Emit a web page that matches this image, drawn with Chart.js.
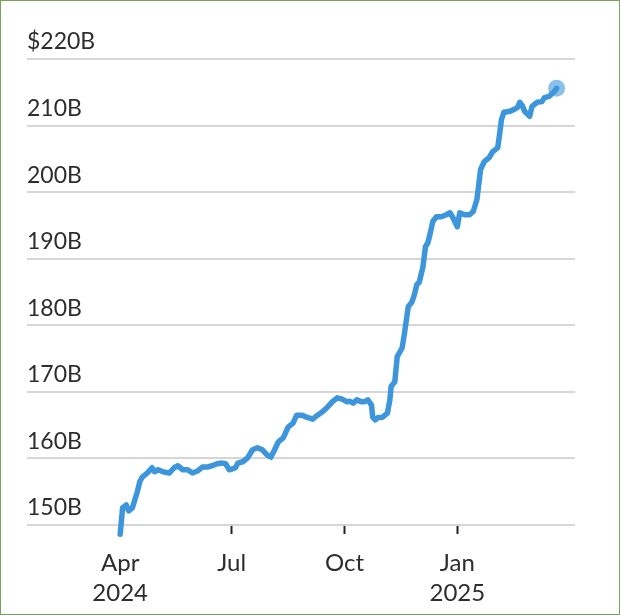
<!DOCTYPE html>
<html>
<head>
<meta charset="utf-8">
<script src="https://cdn.jsdelivr.net/npm/chart.js@4"></script>
<style>
  html, body { margin: 0; padding: 0; background: #fff; }
  #frame { width: 620px; height: 615px; box-sizing: border-box; border: 1px solid #7ba05b; background: #fff; }
  canvas { display: block; }
</style>
</head>
<body>
<div id="frame"><canvas id="c" width="618" height="613"></canvas></div>
<script>
const dates = [
  "2024-04-01","2024-04-03","2024-04-06","2024-04-08","2024-04-11","2024-04-13","2024-04-15","2024-04-17","2024-04-19","2024-04-23",
  "2024-04-27","2024-04-29","2024-05-02","2024-05-06","2024-05-11","2024-05-15","2024-05-18","2024-05-22","2024-05-26","2024-05-30",
  "2024-06-03","2024-06-07","2024-06-11","2024-06-15","2024-06-19","2024-06-23","2024-06-26","2024-06-29","2024-07-01","2024-07-04",
  "2024-07-06","2024-07-10","2024-07-14","2024-07-18","2024-07-22","2024-07-26","2024-07-30","2024-08-02","2024-08-05","2024-08-08",
  "2024-08-12","2024-08-16","2024-08-20","2024-08-23","2024-08-27","2024-08-31","2024-09-05","2024-09-09","2024-09-13","2024-09-17",
  "2024-09-21","2024-09-25","2024-09-29","2024-10-03","2024-10-05","2024-10-08","2024-10-11","2024-10-15","2024-10-17","2024-10-20",
  "2024-10-23","2024-10-24","2024-10-26","2024-10-28","2024-11-01","2024-11-05","2024-11-07","2024-11-08","2024-11-11","2024-11-13",
  "2024-11-17","2024-11-19","2024-11-22","2024-11-25","2024-11-27","2024-11-29","2024-12-01","2024-12-04","2024-12-06","2024-12-08",
  "2024-12-10","2024-12-12","2024-12-15","2024-12-19","2024-12-23","2024-12-26","2024-12-28","2025-01-01","2025-01-03","2025-01-07",
  "2025-01-11","2025-01-14","2025-01-17","2025-01-18","2025-01-20","2025-01-23","2025-01-27","2025-01-30","2025-02-03","2025-02-05",
  "2025-02-06","2025-02-08","2025-02-12","2025-02-16","2025-02-19","2025-02-21","2025-02-23","2025-02-25","2025-03-01","2025-03-03",
  "2025-03-07","2025-03-11","2025-03-13","2025-03-17","2025-03-21","2025-03-23"
];
const valuesB = [
  148.6,152.6,153.0,152.1,152.6,153.8,155.0,156.5,157.2,157.8,
  158.6,158.0,158.3,158.0,157.8,158.6,158.9,158.3,158.3,157.8,
  158.1,158.7,158.7,158.9,159.2,159.3,159.2,158.3,158.4,158.6,
  159.3,159.5,160.1,161.3,161.6,161.3,160.5,160.2,161.3,162.5,
  163.1,164.7,165.3,166.5,166.5,166.2,165.9,166.5,167.0,167.7,
  168.5,169.1,168.9,168.5,168.6,168.3,168.8,168.5,168.5,168.8,
  168.0,166.2,165.8,166.1,166.2,166.8,168.8,170.8,171.5,175.3,
  176.6,178.9,182.8,183.5,184.6,186.1,186.5,188.8,191.8,192.4,
  193.9,195.6,196.3,196.3,196.6,196.9,196.3,194.8,196.9,196.6,
  196.6,197.1,198.9,200.4,203.4,204.6,205.2,206.1,206.7,209.4,
  210.9,212.0,212.1,212.4,212.7,213.5,213.0,212.1,211.4,212.9,
  213.5,213.6,214.2,214.4,215.1,215.6
];
const xTickDates = ["2024-04-01","2024-07-01","2024-10-01","2025-01-01"];
const xTickLabels = [["Apr","2024"],["Jul",""],["Oct",""],["Jan","2025"]];
const yTicks = [150,160,170,180,190,200,210,220];
const xRange = ["2024-01-16","2025-04-07"];

const BASE = Date.parse("2024-04-01");
const toDay = d => (Date.parse(d) - BASE) / 86400000;
const points = dates.map((d, i) => ({ x: toDay(d), y: valuesB[i] }));
const tickDays = xTickDates.map(toDay);
const last = points.length - 1;

Chart.defaults.font.family = "Lato, 'Open Sans', sans-serif";
Chart.defaults.font.size = 24;
Chart.defaults.color = "#2d2d2d";

new Chart(document.getElementById("c"), {
  type: "line",
  data: {
    datasets: [{
      data: points,
      borderColor: "#3d96dc",
      borderWidth: 5.5,
      borderJoinStyle: "round",
      borderCapStyle: "round",
      tension: 0,
      clip: false,
      pointRadius: ctx => ctx.dataIndex === last ? 8.5 : 0,
      pointHoverRadius: ctx => ctx.dataIndex === last ? 8.5 : 0,
      pointBackgroundColor: "rgba(61,150,220,0.6)",
      pointBorderWidth: 0
    }]
  },
  options: {
    responsive: false,
    animation: false,
    events: [],
    layout: { padding: { left: 26, right: 44, top: 58, bottom: 0 } },
    plugins: { legend: { display: false }, tooltip: { enabled: false } },
    scales: {
      x: {
        type: "linear",
        min: toDay(xRange[0]),
        max: toDay(xRange[1]),
        afterBuildTicks: s => { s.ticks = tickDays.map(v => ({ value: v })); },
        afterFit: s => { s.height = 89; },
        ticks: {
          autoSkip: false,
          maxRotation: 0,
          padding: 14,
          font: { size: 24, lineHeight: 1.25 },
          callback: (v) => { const i = tickDays.indexOf(v); return i >= 0 ? xTickLabels[i] : ""; }
        },
        grid: { drawOnChartArea: false, drawTicks: true, tickLength: 9, tickWidth: 2, tickColor: "#222" },
        border: { display: false }
      },
      y: {
        min: 150,
        max: 220,
        afterBuildTicks: s => { s.ticks = yTicks.map(v => ({ value: v })); },
        ticks: {
          mirror: true,
          padding: 0,
          labelOffset: -17,
          font: { size: 23 },
          callback: v => v === 220 ? "$220B" : v + "B"
        },
        grid: { drawTicks: false, color: "#d6d6d6", lineWidth: 2 },
        border: { display: false }
      }
    }
  }
});
</script>
</body>
</html>
